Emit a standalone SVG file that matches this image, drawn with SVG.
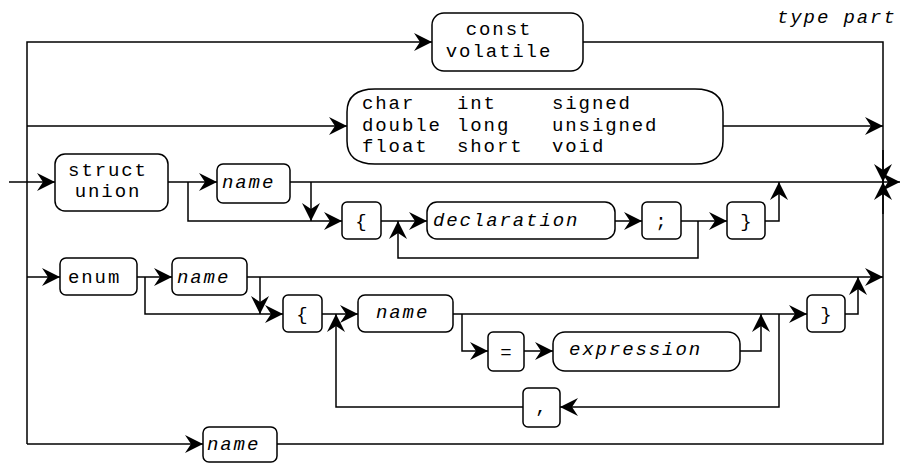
<svg xmlns="http://www.w3.org/2000/svg" width="901" height="463" viewBox="0 0 901 463">
<style>
.b{fill:#fff;stroke:#000;stroke-width:1.5}
.c{fill:none;stroke:#000;stroke-width:1.5}
.a{marker-end:url(#ah)}
text{font-family:"Liberation Mono","Courier New",monospace;font-size:19px;letter-spacing:1.9px;fill:#000}
.i{font-style:italic}
.m{text-anchor:middle}
</style>
<defs>
<marker id="ah" markerUnits="userSpaceOnUse" viewBox="-20 -10 21 20" markerWidth="21" markerHeight="20" refX="0" refY="0" orient="auto">
<path d="M0,0 L-18,-9 L-12,0 L-18,9 Z" fill="#000"/>
</marker>
</defs>
<rect width="901" height="463" fill="#fff"/>
<text class="i" x="777" y="23">type part</text>
<g id="connectors">
<path class="c a" d="M27,444 V42 H432"/>
<path class="c" d="M583,42 H883 V444 H277"/>
<path class="c a" d="M27,126 H347"/>
<path class="c a" d="M723,126 H883"/>
<path class="c a" d="M9,182 H55"/>
<path class="c a" d="M168,182 H217"/>
<path class="c a" d="M188,182 V221 H342"/>
<path class="c a" d="M290,182 H900"/>
<path class="c a" d="M883,150 V182"/>
<path class="c a" d="M883,214 V182"/>
<path class="c a" d="M311,182 V221"/>
<path class="c a" d="M381,221 H427"/>
<path class="c a" d="M698,221 V258 H398 V221"/>
<path class="c a" d="M615,221 H642"/>
<path class="c a" d="M681,221 H727"/>
<path class="c a" d="M765,221 H779 V182"/>
<path class="c a" d="M27,277 H60"/>
<path class="c a" d="M137,277 H172"/>
<path class="c a" d="M145,277 V314 H283"/>
<path class="c a" d="M247,277 H883"/>
<path class="c a" d="M260,277 V314"/>
<path class="c a" d="M322,314 H358"/>
<path class="c a" d="M779,314 V407 H560"/>
<path class="c a" d="M523,407 H336 V314"/>
<path class="c a" d="M453,314 H807"/>
<path class="c a" d="M462,314 V351 H488"/>
<path class="c a" d="M524,351 H553"/>
<path class="c a" d="M740,351 H761 V314"/>
<path class="c a" d="M845,314 H858 V277"/>
<path class="c a" d="M27,444 H203"/>
</g>
<g id="n_const">
<rect class="b" x="432" y="13" width="151" height="58" rx="12"/>
<text class="m" x="499" y="35">const</text>
<text class="m" x="499" y="56.5">volatile</text>
</g>
<g id="n_types">
<path class="b" d="M375,89 H695 Q723,89 723,112 V141 Q723,164 695,164 H375 Q347,164 347,141 V112 Q347,89 375,89 Z"/>
<text x="362" y="109"><tspan>char</tspan><tspan x="457">int</tspan><tspan x="552">signed</tspan></text>
<text x="362" y="130.5"><tspan>double</tspan><tspan x="457">long</tspan><tspan x="552">unsigned</tspan></text>
<text x="362" y="152"><tspan>float</tspan><tspan x="457">short</tspan><tspan x="552">void</tspan></text>
</g>
<g id="n_struct">
<rect class="b" x="55" y="154" width="113" height="57" rx="10"/>
<text class="m" x="108" y="175.5">struct</text>
<text class="m" x="108" y="197">union</text>
</g>
<g id="n_sname">
<rect class="b" x="217" y="164" width="73" height="39" rx="6"/>
<text class="i" x="222" y="188">name</text>
</g>
<g id="n_lbrace1">
<rect class="b" x="342" y="202" width="39" height="37" rx="5"/>
<text class="m" x="362" y="227">{</text>
</g>
<g id="n_decl">
<rect class="b" x="427" y="202" width="188" height="37" rx="10"/>
<text class="i" x="433" y="226">declaration</text>
</g>
<g id="n_semi">
<rect class="b" x="642" y="202" width="39" height="37" rx="5"/>
<text class="m" x="662" y="227">;</text>
</g>
<g id="n_rbrace1">
<rect class="b" x="727" y="202" width="38" height="37" rx="5"/>
<text class="m" x="747" y="227">}</text>
</g>
<g id="n_enum">
<rect class="b" x="60" y="258" width="77" height="37" rx="6"/>
<text x="68" y="283">enum</text>
</g>
<g id="n_ename">
<rect class="b" x="172" y="258" width="75" height="37" rx="6"/>
<text class="i" x="177" y="283">name</text>
</g>
<g id="n_lbrace2">
<rect class="b" x="283" y="295" width="39" height="37" rx="5"/>
<text class="m" x="303" y="320">{</text>
</g>
<g id="n_ename2">
<rect class="b" x="358" y="295" width="95" height="37" rx="7"/>
<text class="i" x="376" y="318">name</text>
</g>
<g id="n_eq">
<rect class="b" x="488" y="332" width="36" height="39" rx="5"/>
<text class="m" x="507" y="358">=</text>
</g>
<g id="n_expr">
<rect class="b" x="553" y="332" width="187" height="39" rx="12"/>
<text class="i" x="569" y="355">expression</text>
</g>
<g id="n_comma">
<rect class="b" x="523" y="388" width="37" height="39" rx="5"/>
<text class="m" x="542" y="413">,</text>
</g>
<g id="n_rbrace2">
<rect class="b" x="807" y="295" width="38" height="37" rx="5"/>
<text class="m" x="827" y="320">}</text>
</g>
<g id="n_bname">
<rect class="b" x="203" y="427" width="74" height="35" rx="6"/>
<text class="i" x="207" y="450">name</text>
</g>
</svg>
